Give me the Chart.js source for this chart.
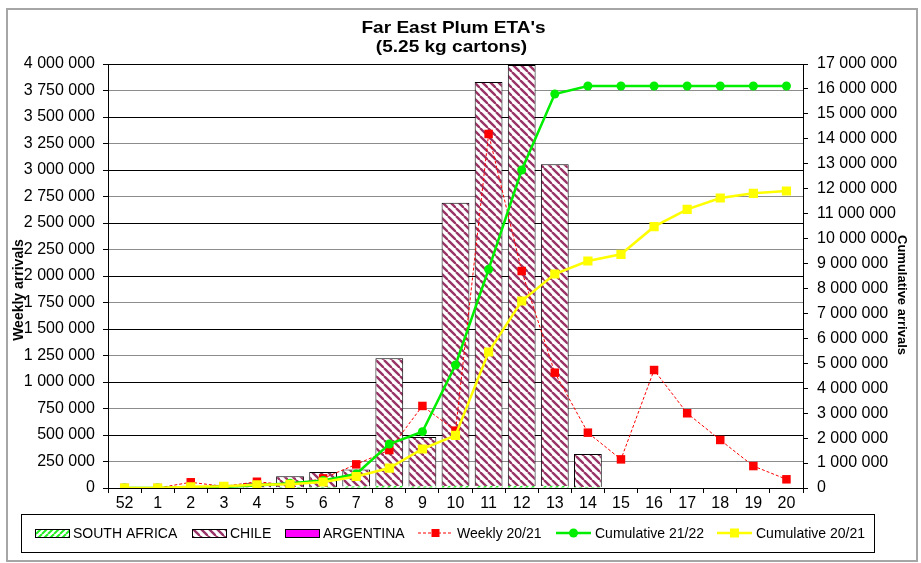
<!DOCTYPE html>
<html>
<head>
<meta charset="utf-8">
<script src="https://cdn.jsdelivr.net/npm/chart.js@4.4.1/dist/chart.umd.min.js"></script>
<style>
  html, body { margin: 0; padding: 0; background: #fff; }
  #plumChart { display: block; }
</style>
</head>
<body>
<canvas id="plumChart" width="921" height="563"></canvas>
<script>
const weeks = ['52', '1', '2', '3', '4', '5', '6', '7', '8', '9', '10', '11', '12', '13', '14', '15', '16', '17', '18', '19', '20'];
const southAfrica = [0, 0, 0, 0, 0, 10000, 10000, 15000, 20000, 15000, 20000, 20000, 20000, 20000, 10000, 0, 0, 0, 0, 0, 0];
const chile = [0, 0, 0, 30000, 45000, 100000, 140000, 160000, 1205000, 465000, 2670000, 3810000, 3970000, 3035000, 310000, 0, 0, 0, 0, 0, 0];
const argentina = [0, 0, 0, 0, 0, 0, 0, 0, 0, 0, 0, 0, 0, 0, 0, 0, 0, 0, 0, 0, 0];
const weekly2021 = [0, 0, 54000, 15000, 59000, 28000, 91000, 223000, 358000, 774000, 541000, 3340000, 2047000, 1088000, 522000, 270000, 1113000, 705000, 453000, 207000, 82000];
const cumulative2122 = [0, 0, 20000, 50000, 100000, 190000, 300000, 560000, 1764000, 2258000, 4931000, 8768000, 12750000, 15797000, 16118000, 16118000, 16118000, 16118000, 16118000, 16118000, 16118000];
const cumulative2021 = [0, 0, 50000, 70000, 130000, 150000, 240000, 460000, 800000, 1564000, 2111000, 5453000, 7498000, 8580000, 9101000, 9370000, 10478000, 11173000, 11627000, 11815000, 11908000];

const FONT = "'Liberation Sans', Arial, sans-serif";

function spaced(v) {
    return String(v).replace(/\B(?=(\d{3})+(?!\d))/g, ' ');
}

// striped fills like the excel pattern fills
function stripes(color, down, size, width) {
    const c = document.createElement('canvas');
    c.width = size; c.height = size;
    const g = c.getContext('2d');
    g.fillStyle = '#fff';
    g.fillRect(0, 0, size, size);
    g.strokeStyle = color;
    g.lineWidth = width;
    for (let k = -size; k <= size; k += size) {
        g.beginPath();
        if (down) { g.moveTo(k, 0); g.lineTo(k + size, size); }
        else { g.moveTo(k, size); g.lineTo(k + size, 0); }
        g.stroke();
    }
    return g.createPattern(c, 'repeat');
}

const saFill = stripes('#22ee22', false, 6, 2);
const chileFill = stripes('#993366', true, 8, 2.4);

const decor = {
    id: 'decor',
    beforeDraw(chart) {
        const ctx = chart.ctx;
        ctx.save();
        ctx.fillStyle = '#fff';
        ctx.fillRect(0, 0, chart.width, chart.height);
        ctx.restore();
    },
    afterDraw(chart) {
        const ctx = chart.ctx;
        ctx.save();
        // outer frame
        ctx.strokeStyle = '#a6a6a6';
        ctx.lineWidth = 2;
        ctx.strokeRect(7, 9, 910, 552);

        // title, a bit wider like the excel rendering
        ctx.fillStyle = '#000';
        ctx.textAlign = 'center';
        ctx.textBaseline = 'middle';
        ctx.font = 'bold 17px ' + FONT;
        ctx.save();
        ctx.scale(1.12, 1);
        ctx.fillText("Far East Plum ETA's", 453.5 / 1.12, 28);
        ctx.fillText('(5.25 kg cartons)', 451.5 / 1.12, 47);
        ctx.restore();

        // axis titles
        ctx.font = 'bold 14px ' + FONT;
        ctx.save();
        ctx.translate(19, 290);
        ctx.rotate(-Math.PI / 2);
        ctx.fillText('Weekly arrivals', 0, 0);
        ctx.restore();
        ctx.save();
        ctx.font = 'bold 13px ' + FONT;
        ctx.translate(902, 295);
        ctx.rotate(Math.PI / 2);
        ctx.fillText('Cumulative arrivals', 0, 0);
        ctx.restore();

        // legend box
        ctx.strokeStyle = '#000';
        ctx.lineWidth = 1;
        ctx.strokeRect(21.5, 514.5, 853, 38);
        const ly = 533;
        ctx.font = '14px ' + FONT;
        ctx.textAlign = 'left';
        const bars = [
            { x: 35, fill: saFill, label: 'SOUTH AFRICA' },
            { x: 192, fill: chileFill, label: 'CHILE' },
            { x: 285, fill: '#ff00ff', label: 'ARGENTINA' }
        ];
        bars.forEach(b => {
            ctx.fillStyle = b.fill;
            ctx.fillRect(b.x, ly - 4, 34, 8);
            ctx.strokeStyle = '#000';
            ctx.strokeRect(b.x + 0.5, ly - 3.5, 34, 8);
            ctx.fillStyle = '#000';
            ctx.fillText(b.label, b.x + 38, ly + 1);
        });
        const lines = [
            { x: 418, color: '#ff0000', width: 1, dash: [3, 2], marker: 'rect', r: 4, label: 'Weekly 20/21' },
            { x: 556, color: '#00ee00', width: 2.5, dash: [], marker: 'circle', r: 4.5, label: 'Cumulative 21/22' },
            { x: 717, color: '#ffff00', width: 2.5, dash: [], marker: 'rect', r: 4.5, label: 'Cumulative 20/21' }
        ];
        lines.forEach(l => {
            ctx.strokeStyle = l.color;
            ctx.lineWidth = l.width;
            ctx.setLineDash(l.dash);
            ctx.beginPath();
            ctx.moveTo(l.x, ly);
            ctx.lineTo(l.x + 35, ly);
            ctx.stroke();
            ctx.setLineDash([]);
            ctx.fillStyle = l.color;
            const mx = l.x + 17.5;
            if (l.marker === 'rect') {
                ctx.fillRect(mx - l.r, ly - l.r, l.r * 2, l.r * 2);
            } else {
                ctx.beginPath();
                ctx.arc(mx, ly, l.r, 0, Math.PI * 2);
                ctx.fill();
            }
            ctx.fillStyle = '#000';
            ctx.fillText(l.label, l.x + 39, ly + 1);
        });
        ctx.restore();
    }
};

new Chart(document.getElementById('plumChart').getContext('2d'), {
    type: 'bar',
    data: {
        labels: weeks,
        datasets: [
            {
                label: 'SOUTH AFRICA',
                data: southAfrica,
                backgroundColor: saFill,
                borderWidth: 0,
                yAxisID: 'y',
                order: 4
            },
            {
                label: 'CHILE',
                data: chile,
                backgroundColor: chileFill,
                borderColor: '#000',
                borderWidth: 1,
                yAxisID: 'y',
                order: 5
            },
            {
                label: 'ARGENTINA',
                data: argentina,
                backgroundColor: '#ff00ff',
                borderWidth: 0,
                yAxisID: 'y',
                order: 6
            },
            {
                type: 'line',
                label: 'Weekly 20/21',
                data: weekly2021,
                borderColor: '#ff0000',
                backgroundColor: '#ff0000',
                borderWidth: 1,
                borderDash: [3, 2],
                pointStyle: 'rect',
                pointRadius: 6,
                pointBorderWidth: 0,
                tension: 0,
                yAxisID: 'y',
                stack: 'weekly',
                order: 3
            },
            {
                type: 'line',
                label: 'Cumulative 21/22',
                data: cumulative2122,
                borderColor: '#00ee00',
                backgroundColor: '#00ee00',
                borderWidth: 2.5,
                pointStyle: 'circle',
                pointRadius: 4.5,
                pointBorderWidth: 0,
                tension: 0,
                yAxisID: 'y1',
                order: 2
            },
            {
                type: 'line',
                label: 'Cumulative 20/21',
                data: cumulative2021,
                borderColor: '#ffff00',
                backgroundColor: '#ffff00',
                borderWidth: 2.5,
                pointStyle: 'rect',
                pointRadius: 6.5,
                pointBorderWidth: 0,
                tension: 0,
                yAxisID: 'y1',
                order: 1
            }
        ]
    },
    options: {
        responsive: false,
        animation: false,
        devicePixelRatio: 1,
        layout: { padding: { top: 64, left: 8, right: 8, bottom: 50 } },
        datasets: {
            bar: { barPercentage: 0.84, categoryPercentage: 1 }
        },
        plugins: {
            legend: { display: false },
            title: { display: false },
            tooltip: { enabled: false }
        },
        scales: {
            x: {
                stacked: true,
                offset: true,
                grid: { drawOnChartArea: false, offset: true, color: '#000', tickLength: 5 },
                border: { color: '#000' },
                ticks: { color: '#000', font: { family: FONT, size: 16 }, padding: 1, maxRotation: 0, autoSkip: false },
                afterFit: s => { s.height = 25; }
            },
            y: {
                stacked: true,
                position: 'left',
                min: 0,
                max: 4000000,
                ticks: {
                    stepSize: 250000,
                    color: '#000',
                    font: { family: FONT, size: 16 },
                    padding: 8,
                    callback: v => spaced(v)
                },
                grid: {
                    color: c => (c.tick && c.tick.value % 500000 === 0) ? '#000' : '#8c8c8c',
                    tickColor: '#000',
                    tickLength: 5
                },
                border: { color: '#000' },
                afterFit: s => { s.width = 100; }
            },
            y1: {
                stacked: false,
                position: 'right',
                min: 0,
                max: 17000000,
                ticks: {
                    stepSize: 1000000,
                    color: '#000',
                    font: { family: FONT, size: 16 },
                    padding: 9,
                    callback: v => spaced(v)
                },
                grid: { drawOnChartArea: false, color: '#000', tickLength: 5 },
                border: { color: '#000' },
                afterFit: s => { s.width = 110; }
            }
        }
    },
    plugins: [decor]
});
</script>
</body>
</html>
